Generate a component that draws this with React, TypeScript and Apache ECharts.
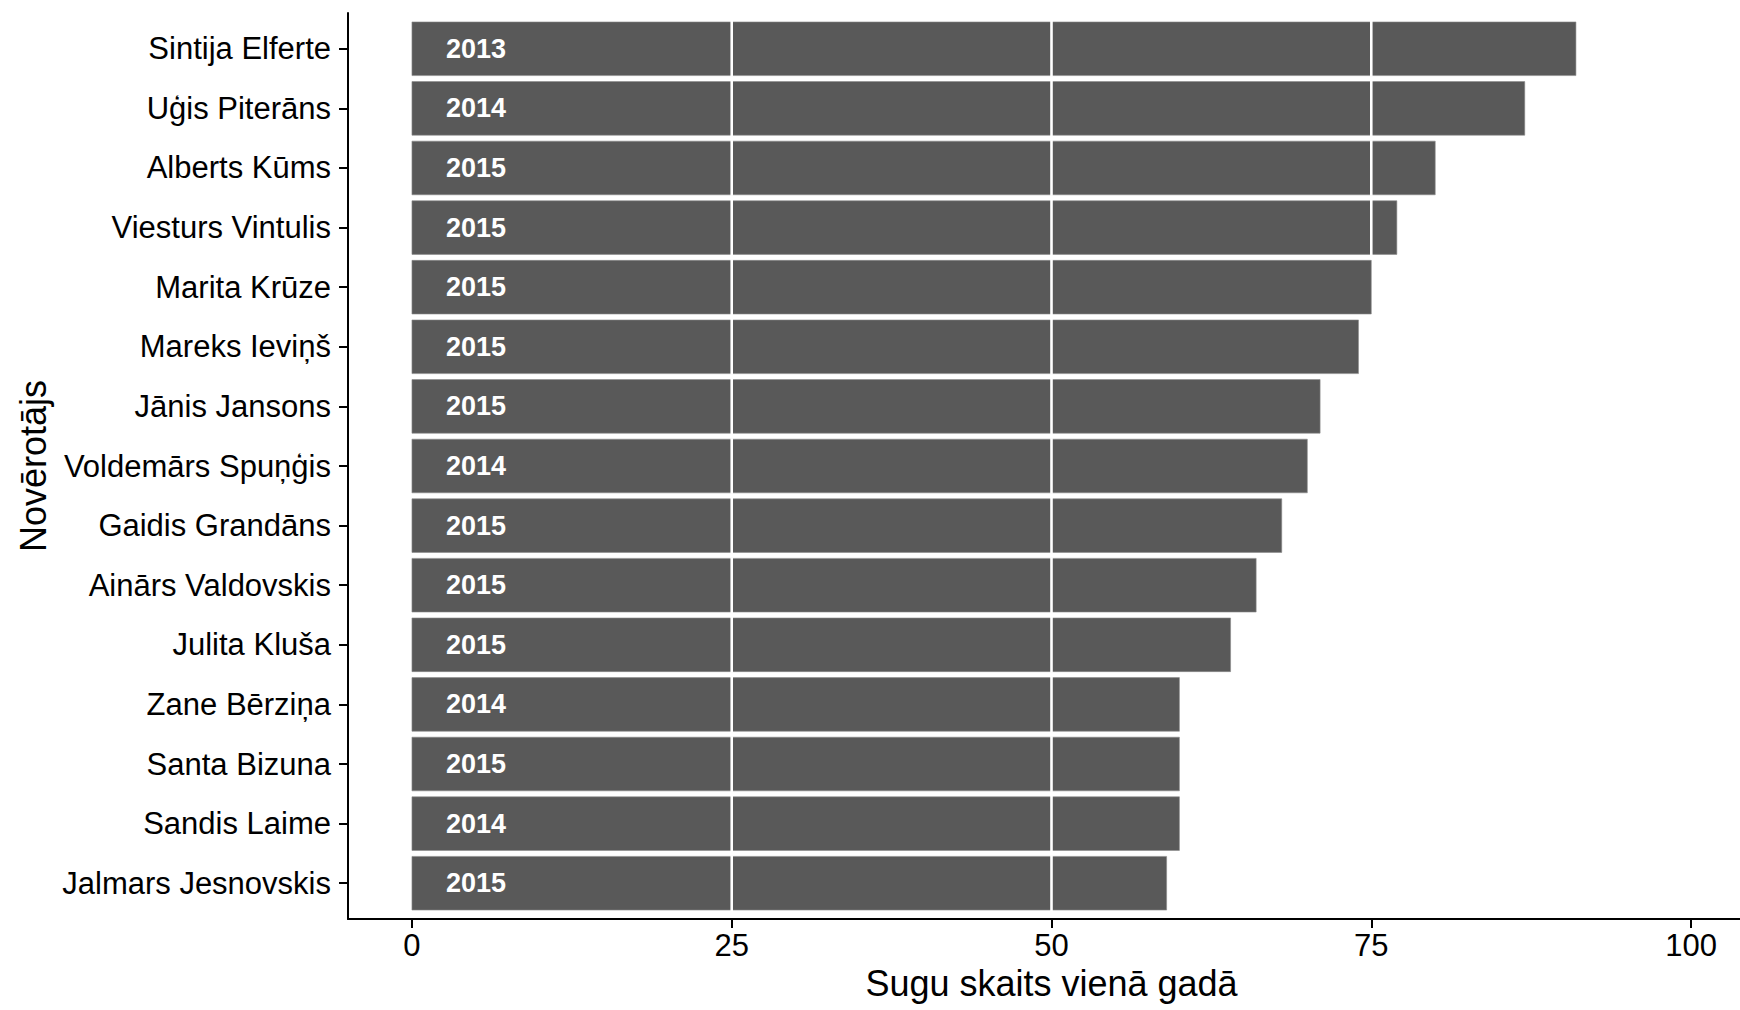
import React, { useEffect, useRef } from "react";
import * as echarts from "echarts";

const observers = [
  "Sintija Elferte",
  "Uģis Piterāns",
  "Alberts Kūms",
  "Viesturs Vintulis",
  "Marita Krūze",
  "Mareks Ieviņš",
  "Jānis Jansons",
  "Voldemārs Spuņģis",
  "Gaidis Grandāns",
  "Ainārs Valdovskis",
  "Julita Kluša",
  "Zane Bērziņa",
  "Santa Bizuna",
  "Sandis Laime",
  "Jalmars Jesnovskis",
];
const speciesCounts = [91, 87, 80, 77, 75, 74, 71, 70, 68, 66, 64, 60, 60, 60, 59];
const bestYears = [
  "2013", "2014", "2015", "2015", "2015", "2015", "2015", "2014",
  "2015", "2015", "2015", "2014", "2015", "2014", "2015",
];
const xTicks = [0, 25, 50, 75, 100];
const yearLabelPosition = 5;

const xTitle = "Sugu skaits vienā gadā";
const yTitle = "Novērotājs";

const FONT = "Liberation Sans, Arial, Helvetica, sans-serif";

export default function App() {
  const ref = useRef<HTMLDivElement>(null);

  useEffect(() => {
    document.body.style.margin = "0";
    if (!ref.current) return;
    const chart = echarts.init(ref.current, undefined, { renderer: "svg" });
    const indices = observers.map((_, i) => i);
    const data = speciesCounts.map((v, i) => [v, i, bestYears[i]]);

    const option: any = {
      animation: false,
      backgroundColor: "#ffffff",
      textStyle: { fontFamily: FONT },
      grid: {
        left: 348,
        top: 13,
        right: -15,
        bottom: 91,
        containLabel: false,
        outerBoundsMode: "none",
      },
      xAxis: {
        type: "value",
        min: -5,
        max: 105,
        name: xTitle,
        nameLocation: "middle",
        nameGap: 46,
        nameTextStyle: { fontSize: 36, color: "#000", fontFamily: FONT },
        axisLine: { show: true, onZero: false, lineStyle: { color: "#000", width: 2 } },
        axisTick: { show: true, length: 9, lineStyle: { color: "#000", width: 2 }, customValues: xTicks },
        axisLabel: {
          show: true,
          fontSize: 31,
          color: "#000",
          margin: 11,
          fontFamily: FONT,
          customValues: xTicks,
          formatter: (v: number) => String(Math.round(v)),
        },
        splitLine: { show: false },
      },
      yAxis: {
        type: "value",
        min: -0.6,
        max: observers.length - 0.4,
        inverse: true,
        name: yTitle,
        nameLocation: "middle",
        nameGap: 296,
        nameRotate: 90,
        nameTextStyle: { fontSize: 36, color: "#000", fontFamily: FONT },
        axisLine: { show: true, onZero: false, lineStyle: { color: "#000", width: 2 } },
        axisTick: { show: true, length: 9, lineStyle: { color: "#000", width: 2 }, customValues: indices },
        axisLabel: {
          show: true,
          fontSize: 31,
          color: "#000",
          margin: 17,
          fontFamily: FONT,
          customValues: indices,
          formatter: (v: number) => observers[Math.round(v)] ?? "",
        },
        splitLine: { show: false },
      },
      series: [
        {
          type: "custom",
          encode: { x: 0, y: 1 },
          data,
          renderItem: (params: any, api: any) => {
            const v = api.value(0);
            const i = api.value(1);
            const start = api.coord([0, i]);
            const end = api.coord([v, i]);
            const h = api.size([0, 0.9])[1];
            const top = start[1] - h / 2;
            const children: any[] = [
              {
                type: "rect",
                shape: { x: start[0], y: top, width: end[0] - start[0], height: h },
                style: { fill: "#595959", stroke: "#8c8c8c", lineWidth: 0.6 },
              },
            ];
            xTicks
              .filter((t) => t > 0 && t < v)
              .forEach((t) => {
                const px = api.coord([t, i])[0];
                children.push({
                  type: "rect",
                  shape: { x: px - 1.3, y: top - 1, width: 2.6, height: h + 2 },
                  style: { fill: "#ffffff" },
                });
              });
            const lp = api.coord([yearLabelPosition, i]);
            children.push({
              type: "text",
              x: lp[0],
              y: lp[1],
              style: {
                text: String(bestYears[params.dataIndex]),
                fill: "#ffffff",
                fontSize: 27,
                fontWeight: "bold",
                fontFamily: FONT,
                align: "center",
                verticalAlign: "middle",
              },
            });
            return { type: "group", children };
          },
        },
      ],
    };

    chart.setOption(option);
    return () => chart.dispose();
  }, []);

  return <div ref={ref} style={{ width: 1740, height: 1010 }} />;
}
